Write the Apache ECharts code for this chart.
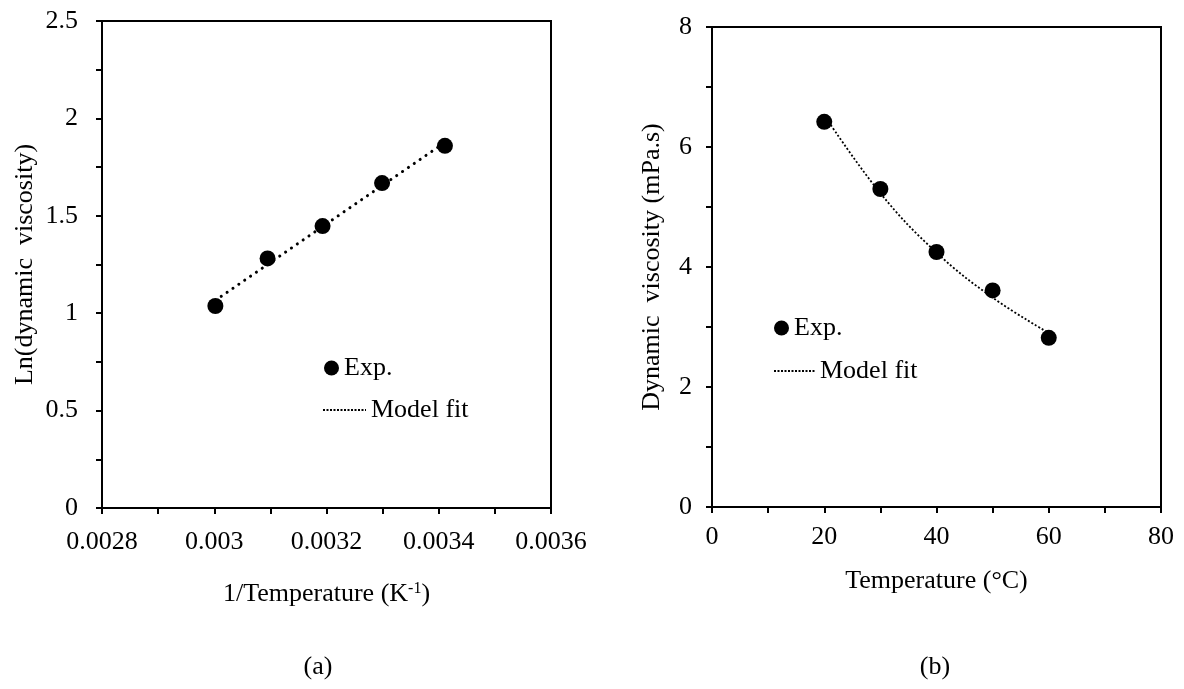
<!DOCTYPE html>
<html>
<head>
<meta charset="utf-8">
<script src="https://cdn.jsdelivr.net/npm/echarts@6/dist/echarts.min.js"></script>
<style>
  html, body { margin: 0; padding: 0; background: #fff; }
  #chart { width: 1184px; height: 689px; }
</style>
</head>
<body>
<div id="chart"></div>
<script>
// Panel (a): Arrhenius plot, 1/T (K^-1) against ln(viscosity)
const invTemperature = [0.003002, 0.003095, 0.003193, 0.003299, 0.003411];
const lnViscosity = [1.037, 1.281, 1.447, 1.668, 1.859];
const lnViscosityFit = [1.066, 1.250, 1.445, 1.655, 1.877];

// Panel (b): dynamic viscosity against temperature in °C
const temperatureC = [20, 30, 40, 50, 60];
const viscosity = [6.42, 5.30, 4.25, 3.61, 2.82];
const viscosityFit = [6.53, 5.23, 4.24, 3.49, 2.90];

const panelLabels = ['(a)', '(b)'];
const seriesNames = ['Exp.', 'Model fit'];

const FONT = "'Liberation Serif', 'Times New Roman', serif";
const INK = '#000';

function pairs(xs, ys) { return xs.map((x, i) => [x, ys[i]]); }

function axisBase(extra) {
  return Object.assign({
    type: 'value',
    axisLine: { show: true, onZero: false, lineStyle: { color: INK, width: 2 } },
    axisTick: { show: true, inside: false, length: 6, lineStyle: { color: INK, width: 2 } },
    minorTick: { show: true, splitNumber: 2, length: 6, lineStyle: { color: INK, width: 2 } },
    splitLine: { show: false },
    minorSplitLine: { show: false },
    nameLocation: 'middle',
    nameTextStyle: { fontFamily: FONT, fontSize: 26, color: INK }
  }, extra);
}

function labelStyle(margin, formatter) {
  const s = { margin: margin, fontFamily: FONT, fontSize: 26, color: INK, showMinLabel: true, showMaxLabel: true };
  if (formatter) s.formatter = formatter;
  return s;
}

function legendItem(name, left, top, w, gap, isLine) {
  const l = {
    data: [name],
    orient: 'vertical',
    left: left, top: top,
    padding: 0,
    itemWidth: w, itemHeight: 15,
    itemGap: 0,
    itemTextGap: gap,
    selectedMode: false,
    textStyle: { fontFamily: FONT, fontSize: 26, color: INK }
  };
  if (isLine) {
    l.lineStyle = { color: INK, width: 2, type: [2, 1.5], cap: 'butt' };
    l.itemStyle = { color: 'rgba(0,0,0,0)', borderWidth: 0, opacity: 0 };
  } else {
    l.itemStyle = { color: INK, borderWidth: 0, opacity: 1 };
  }
  return l;
}

const chart = echarts.init(document.getElementById('chart'), null, { renderer: 'canvas' });

chart.setOption({
  backgroundColor: '#fff',
  animation: false,
  grid: [
    { left: 102, top: 21, width: 449, height: 487, show: true, borderColor: INK, borderWidth: 2, backgroundColor: 'transparent', containLabel: false, outerBoundsMode: 'none' },
    { left: 712, top: 27, width: 449, height: 480, show: true, borderColor: INK, borderWidth: 2, backgroundColor: 'transparent', containLabel: false, outerBoundsMode: 'none' }
  ],
  xAxis: [
    axisBase({
      gridIndex: 0, min: 0.0028, max: 0.0036, interval: 0.0002,
      axisLabel: labelStyle(21, v => String(+v.toFixed(4))),
      name: '1/Temperature (K{sup|-1})',
      nameGap: 73,
      nameTextStyle: {
        fontFamily: FONT, fontSize: 26, color: INK,
        rich: { sup: { fontFamily: FONT, fontSize: 16, color: INK, verticalAlign: 'top', padding: [0, 0, 8, 0] } }
      }
    }),
    axisBase({
      gridIndex: 1, min: 0, max: 80, interval: 20,
      axisLabel: labelStyle(17),
      name: 'Temperature (°C)',
      nameGap: 61
    })
  ],
  yAxis: [
    axisBase({
      gridIndex: 0, min: 0, max: 2.5, interval: 0.5,
      axisLabel: labelStyle(24),
      name: 'Ln(dynamic  viscosity)',
      nameRotate: 90,
      nameGap: 64
    }),
    axisBase({
      gridIndex: 1, min: 0, max: 8, interval: 2,
      axisLabel: labelStyle(20),
      name: 'Dynamic  viscosity (mPa.s)',
      nameRotate: 90,
      nameGap: 47
    })
  ],
  legend: [
    legendItem(seriesNames[0], 324, 355, 15, 34, false),
    legendItem(seriesNames[1], 322, 397, 43, 9, true),
    legendItem(seriesNames[0], 774, 315, 15, 34, false),
    legendItem(seriesNames[1], 773, 358, 41, 11, true)
  ],
  series: [
    {
      type: 'line', name: seriesNames[1], xAxisIndex: 0, yAxisIndex: 0,
      data: pairs(invTemperature, lnViscosityFit),
      symbol: 'none', silent: true, z: 2,
      lineStyle: { color: INK, width: 3, type: [0.1, 7], cap: 'round', opacity: 1 }
    },
    {
      type: 'scatter', name: seriesNames[0], xAxisIndex: 0, yAxisIndex: 0,
      data: pairs(invTemperature, lnViscosity),
      symbol: 'circle', symbolSize: 16, z: 3,
      itemStyle: { color: INK, opacity: 1 }
    },
    {
      type: 'line', name: seriesNames[1], xAxisIndex: 1, yAxisIndex: 1,
      data: pairs(temperatureC, viscosityFit),
      symbol: 'none', smooth: 0.4, silent: true, z: 2,
      lineStyle: { color: INK, width: 1.8, type: [2, 2], cap: 'butt', opacity: 1 }
    },
    {
      type: 'scatter', name: seriesNames[0], xAxisIndex: 1, yAxisIndex: 1,
      data: pairs(temperatureC, viscosity),
      symbol: 'circle', symbolSize: 16, z: 3,
      itemStyle: { color: INK, opacity: 1 }
    }
  ],
  graphic: [
    { type: 'text', x: 318, y: 667, style: { text: panelLabels[0], fontFamily: FONT, fontSize: 26, fill: INK, textAlign: 'center', textVerticalAlign: 'middle' } },
    { type: 'text', x: 935, y: 667, style: { text: panelLabels[1], fontFamily: FONT, fontSize: 26, fill: INK, textAlign: 'center', textVerticalAlign: 'middle' } }
  ]
});
</script>
</body>
</html>
